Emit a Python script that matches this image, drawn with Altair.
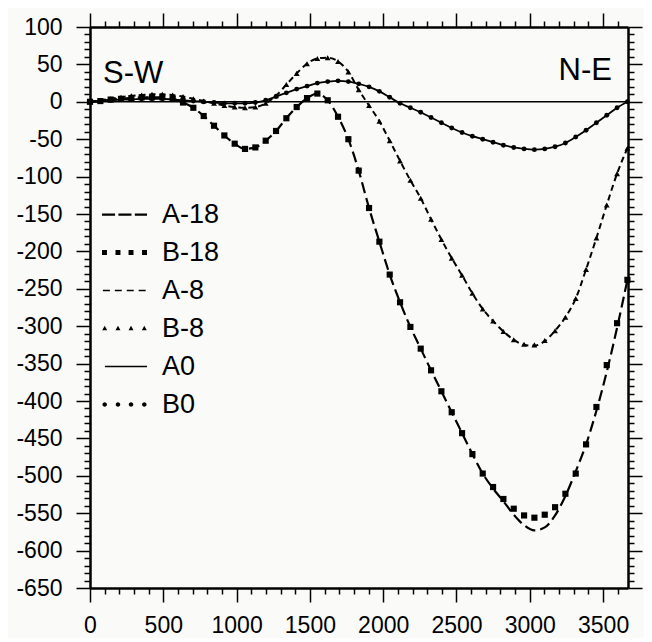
import altair as alt
import pandas as pd

# ---------------- data ----------------
x_pos = [0, 70.5, 141, 211.5, 282, 352.5, 423, 493.5, 564, 634.5,
         705, 775.5, 846, 916.5, 987, 1057.5, 1128, 1198.5, 1269, 1339.5,
         1410, 1480.5, 1551, 1621.5, 1692, 1762.5, 1833, 1903.5, 1974, 2044.5,
         2115, 2185.5, 2256, 2326.5, 2397, 2467.5, 2538, 2608.5, 2679, 2749.5,
         2820, 2890.5, 2961, 3031.5, 3102, 3172.5, 3243, 3313.5, 3384, 3454.5,
         3525, 3595.5, 3666]

b18 = [0, 1, 3, 4, 5, 6, 6, 6, 4, -1,
       -8, -19, -32, -45, -56, -63, -61, -52, -39, -22,
       -7, 5, 11, 2, -20, -50, -92, -142, -187, -231,
       -268, -301, -330, -359, -387, -415, -443, -471, -497, -515,
       -531, -544, -553, -556, -552, -542, -524, -497, -458, -408,
       -352, -296, -238]

a18 = [0, 1, 3, 4, 5, 6, 6, 6, 4, -1,
       -8, -19, -32, -45, -56, -63, -61, -52, -39, -22,
       -7, 5, 11, 2, -20, -50, -92, -142, -187, -231,
       -268, -301, -330, -359, -387, -415, -443, -471, -497, -517,
       -534, -552, -566, -573, -569, -553, -527, -494, -458, -413,
       -361, -302, -238]

b8 = [0, 2, 4, 6, 8, 9, 10, 10, 9, 7,
      4, 1, -2, -5, -7, -8, -7, -2, 8, 23,
      38, 51, 58, 59, 54, 40, 16, -5, -26, -52,
      -79, -105, -129, -157, -184, -209, -232, -256, -277, -293,
      -307, -318, -324, -325, -319, -306, -288, -263, -224, -182,
      -138, -96, -62]

a8 = [0, 2, 4, 6, 8, 9, 10, 10, 9, 7,
      4, 1, -2, -5, -7, -8, -7, -2, 8, 23,
      38, 51, 58, 59, 54, 40, 16, -5, -26, -52,
      -79, -105, -129, -157, -184, -209, -232, -256, -277, -293,
      -307, -318, -325, -326, -320, -306, -288, -263, -224, -182,
      -138, -96, -62]

b0 = [0, 1, 2, 3, 3, 4, 4, 4, 3, 2,
      1, 0, -1, -2, -2, -2, -1, 2, 7, 12,
      17, 21, 25, 27, 28, 27, 24, 20, 14, 6,
      -2, -8, -14, -21, -28, -35, -41, -46, -50, -54,
      -58, -61, -63, -64, -63, -60, -55, -47, -38, -28,
      -18, -8, 0]

a0 = [0, 1, 2, 3, 3, 4, 4, 4, 3, 2,
      1, 0, -1, -2, -2, -2, -1, 2, 7, 12,
      17, 21, 25, 27, 28, 27, 24, 20, 14, 6,
      -2, -8, -14, -21, -28, -35, -41, -46, -50, -54,
      -58, -61, -63, -64, -63, -60, -55, -47, -38, -28,
      -18, -8, 0]

series_names = ["A-18", "B-18", "A-8", "B-8", "A0", "B0"]
zero_line = [0]
x_ticks = list(range(0, 3700, 100))
y_ticks = list(range(-650, 110, 10))
side_labels = ["S-W", "N-E"]

# legend symbols (custom paths, unit box -1..1)
legend_paths = [
    "M-1,-0.05H-0.42V0.05H-1Z M-0.27,-0.05H0.31V0.05H-0.27Z M0.46,-0.05H1V0.05H0.46Z",
    "M-1,-0.11H-0.78V0.11H-1Z M-0.4,-0.11H-0.18V0.11H-0.4Z M0.18,-0.11H0.4V0.11H0.18Z M0.78,-0.11H1V0.11H0.78Z",
    "M-0.96,-0.036H-0.65V0.036H-0.96Z M-0.43,-0.036H-0.12V0.036H-0.43Z M0.1,-0.036H0.41V0.036H0.1Z M0.63,-0.036H0.94V0.036H0.63Z",
    "M-0.88,-0.12L-0.77,0.08H-0.99Z M-0.29,-0.12L-0.18,0.08H-0.4Z M0.29,-0.12L0.4,0.08H0.18Z M0.88,-0.12L0.99,0.08H0.77Z",
    "M-0.87,-0.036H1V0.036H-0.87Z",
    "M-0.98,0A0.1,0.1 0 1,0 -0.78,0A0.1,0.1 0 1,0 -0.98,0Z M-0.39,0A0.1,0.1 0 1,0 -0.19,0A0.1,0.1 0 1,0 -0.39,0Z M0.19,0A0.1,0.1 0 1,0 0.39,0A0.1,0.1 0 1,0 0.19,0Z M0.78,0A0.1,0.1 0 1,0 0.98,0A0.1,0.1 0 1,0 0.78,0Z",
]

FONT = "Liberation Sans"
xs = alt.Scale(domain=[0, 3670], nice=False, zero=False)
ys = alt.Scale(domain=[-650, 100], nice=False, zero=False)


def tick_size(step):
    return {"condition": {"test": f"datum.value % {step} === 0", "value": 14}, "value": 6}


def make_axis(orient, values, step, labels):
    kw = dict(orient=orient, values=values, tickSize=tick_size(step), tickColor="black",
              tickWidth=1.5, domainColor="black", domainWidth=2.5, grid=False, title=None)
    if labels:
        kw.update(labelExpr=f"datum.value % {step} === 0 ? toString(datum.value) : ''",
                  labelFont=FONT, labelFontSize=23, labelColor="black",
                  labelOverlap=False, labelFlush=False,
                  labelPadding=12 if orient in ("bottom", "top") else 14)
    else:
        kw.update(labels=False)
    return alt.Axis(**kw)


x_bottom = make_axis("bottom", x_ticks, 500, True)
x_top = make_axis("top", x_ticks, 500, False)
y_left = make_axis("left", y_ticks, 50, True)
y_right = make_axis("right", y_ticks, 50, False)


def df_of(vals):
    return pd.DataFrame({"x": x_pos, "v": vals})


def enc(chart, xaxis=None, yaxis=None):
    return chart.encode(
        x=alt.X("x:Q", scale=xs, axis=xaxis),
        y=alt.Y("v:Q", scale=ys, axis=yaxis),
    )


zero = alt.Chart(pd.DataFrame({"v": zero_line})).mark_rule(
    color="black", strokeWidth=1.5).encode(y=alt.Y("v:Q", scale=ys, axis=None))

line_a18 = enc(alt.Chart(df_of(a18)).mark_line(
    color="black", strokeWidth=2.2, strokeDash=[11, 5], interpolate="monotone"),
    x_top, y_right)
line_a8 = enc(alt.Chart(df_of(a8)).mark_line(
    color="black", strokeWidth=2, strokeDash=[6, 4], interpolate="monotone"))
line_a0 = enc(alt.Chart(df_of(a0)).mark_line(
    color="black", strokeWidth=1.8, interpolate="monotone"),
    x_bottom, y_left)

pts_b18 = enc(alt.Chart(df_of(b18)).mark_point(
    shape="square", filled=True, size=38, color="black", opacity=1))
pts_b8 = enc(alt.Chart(df_of(b8)).mark_point(
    shape="triangle-up", filled=True, size=34, color="black", opacity=1))
pts_b0 = enc(alt.Chart(df_of(b0)).mark_point(
    shape="circle", filled=True, size=24, color="black", opacity=1))

legend_layer = alt.Chart(pd.DataFrame({"series": series_names})).mark_point(
    filled=True, opacity=0, color="black").encode(
    shape=alt.Shape(
        "series:N",
        scale=alt.Scale(domain=series_names, range=legend_paths),
        legend=alt.Legend(
            orient="none", legendX=12, legendY=165, title=None,
            symbolSize=2025, symbolFillColor="black", symbolStrokeColor="black",
            symbolStrokeWidth=0, symbolOpacity=1,
            labelFont=FONT, labelFontSize=27, labelColor="black",
            labelOffset=15, rowPadding=2, padding=0,
        ),
    )
)

txt_df = pd.DataFrame({"label": side_labels, "x": [0, 3670], "v": [25, 29]})
txt_sw = alt.Chart(txt_df).transform_filter("datum.label == 'S-W'").mark_text(
    align="left", baseline="alphabetic", dx=13, font=FONT, fontSize=31, color="black"
).encode(x=alt.X("x:Q", scale=xs, axis=None), y=alt.Y("v:Q", scale=ys, axis=None), text="label:N")
txt_ne = alt.Chart(txt_df).transform_filter("datum.label == 'N-E'").mark_text(
    align="right", baseline="alphabetic", dx=-16, font=FONT, fontSize=31, color="black"
).encode(x=alt.X("x:Q", scale=xs, axis=None), y=alt.Y("v:Q", scale=ys, axis=None), text="label:N")

chart = alt.layer(
    zero, line_a18, line_a8, line_a0, pts_b18, pts_b8, pts_b0, legend_layer, txt_sw, txt_ne
).resolve_axis(x="independent", y="independent").properties(
    width=538, height=561,
    autosize=alt.AutoSizeParams(type="none"),
    padding={"left": 82, "top": 19, "right": 16, "bottom": 50},
    background="#fafaf8",
).configure_view(strokeWidth=0)

chart.save("out.html", embed_options={"renderer": "svg", "actions": False})
